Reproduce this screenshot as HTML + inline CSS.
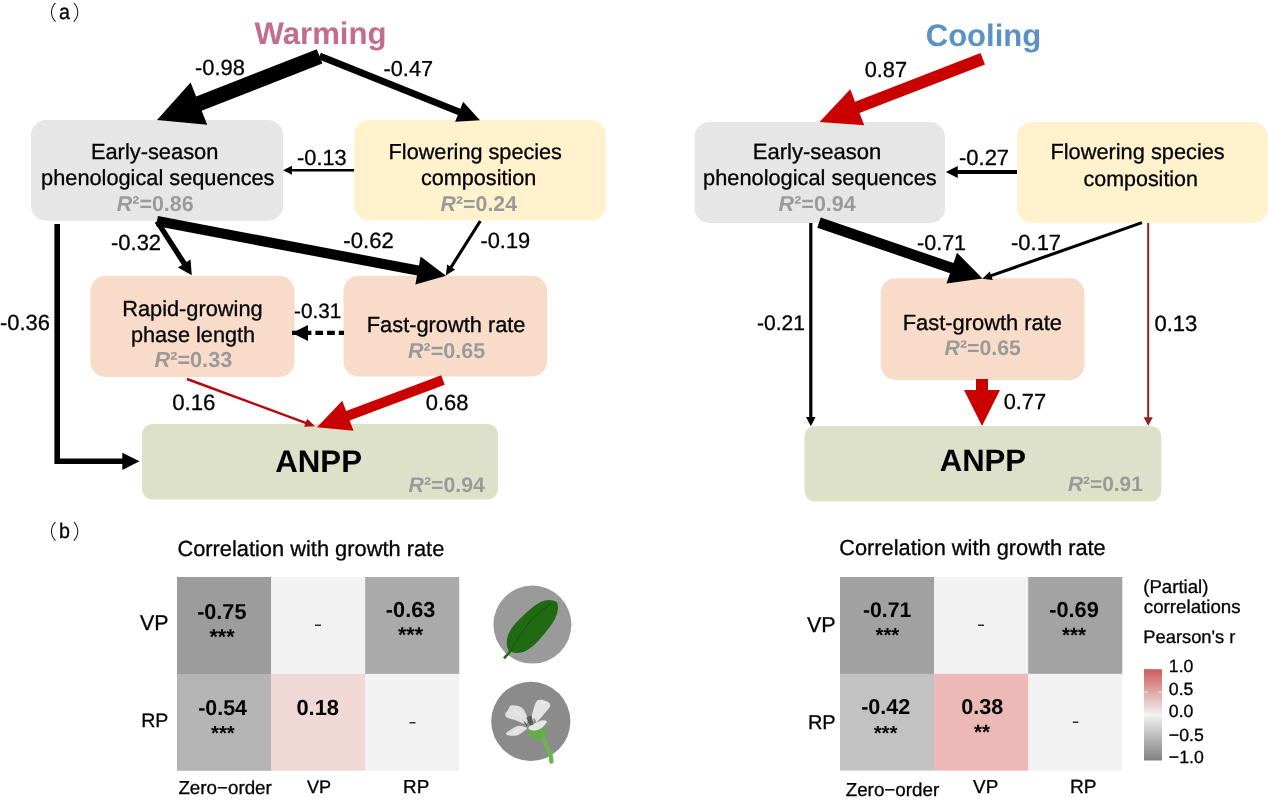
<!DOCTYPE html>
<html lang="en"><head><meta charset="utf-8"><title>Figure</title>
<style>
html,body{margin:0;padding:0;background:#fff;}
body{width:1268px;height:802px;overflow:hidden;}
svg{display:block;will-change:transform;font-family:'Liberation Sans', 'Noto Sans CJK SC', sans-serif;}
</style></head><body>
<svg width="1268" height="802" viewBox="0 0 1268 802" font-family="'Liberation Sans', 'Noto Sans CJK SC', sans-serif" text-rendering="geometricPrecision">
<rect x="31" y="120" width="252" height="100.80000000000001" rx="15" ry="15" fill="#e7e6e6"/>
<rect x="354" y="120" width="252" height="100.5" rx="15" ry="15" fill="#fff2cc"/>
<rect x="90.5" y="276" width="204.0" height="101" rx="15" ry="15" fill="#f8dcc9"/>
<rect x="343.5" y="276" width="203.5" height="100.5" rx="15" ry="15" fill="#f8dcc9"/>
<rect x="142" y="424" width="356" height="75.5" rx="10.5" ry="10.5" fill="#dde1c9"/>
<polygon points="316.83,49.22 196.13,96.51 190.60,82.40 157.00,120.00 207.20,124.77 201.67,110.66 322.37,63.38" fill="#000"/>
<polygon points="318.32,59.20 457.83,115.04 455.12,121.82 480.00,120.20 463.11,101.86 460.39,108.64 320.88,52.80" fill="#000"/>
<polygon points="354.00,169.10 292.00,169.10 292.00,165.80 283.00,170.30 292.00,174.80 292.00,171.50 354.00,171.50" fill="#000"/>
<polygon points="156.05,226.11 417.05,275.51 415.35,284.50 446.00,275.80 420.65,256.50 418.95,265.49 157.95,216.09" fill="#000"/>
<polygon points="154.77,222.74 181.99,264.97 177.91,267.59 191.80,275.30 190.52,259.47 186.44,262.10 159.23,219.86" fill="#000"/>
<polygon points="478.99,220.17 449.84,266.22 447.14,264.51 445.80,275.50 455.16,269.59 452.46,267.88 481.61,221.83" fill="#000"/>
<line x1="292.00" y1="332.90" x2="344.00" y2="332.90" stroke="#000" stroke-width="4.2" stroke-dasharray="7.7 4"/><polygon points="292.00,332.90 308.00,324.90 308.00,340.90" fill="#000"/>
<polyline points="57.2,224 57.2,461.3 124,461.3" fill="none" stroke="#000" stroke-width="5.6"/>
<polygon points="139.5,461.3 122.3,452.7 122.3,469.9" fill="#000"/>
<polygon points="186.58,380.13 305.20,423.96 304.15,426.82 315.00,426.30 307.09,418.85 306.04,421.71 187.42,377.87" fill="#b8060c"/>
<polygon points="441.24,375.32 346.14,411.02 342.27,400.72 317.00,427.30 353.52,430.68 349.65,420.38 444.76,384.68" fill="#ca0000"/>
<text x="36.6" y="19.90" font-size="20.3" font-family="'Liberation Sans', 'Noto Sans CJK SC', sans-serif" font-weight="300">（</text><text transform="translate(58.89,18.90) scale(0.93,1)" font-size="21.2" stroke="#000" stroke-width="0.3">a</text><text x="72.6" y="19.90" font-size="20.3" font-family="'Liberation Sans', 'Noto Sans CJK SC', sans-serif" font-weight="300">）</text>
<text x="254.47" y="43.70" font-size="31.15" font-weight="bold" fill="#c16d8b">Warming</text>
<text x="195.04" y="74.50" font-size="21.90" stroke="#000" stroke-width="0.3" fill="#000">-0.98</text>
<text x="383.54" y="75.50" font-size="21.74" stroke="#000" stroke-width="0.3" fill="#000">-0.47</text>
<text x="90.91" y="158.70" font-size="21.85" stroke="#000" stroke-width="0.3" fill="#000">Early-season</text>
<text x="41.11" y="185.00" font-size="21.75" stroke="#000" stroke-width="0.3" fill="#000">phenological sequences</text>
<text x="116.81" y="210.60" font-size="21.44" font-weight="bold" fill="#9a9a9a"><tspan font-style="italic">R</tspan>²=0.86</text>
<text x="297.04" y="165.20" font-size="21.79" stroke="#000" stroke-width="0.3" fill="#000">-0.13</text>
<text x="388.62" y="158.80" font-size="21.67" stroke="#000" stroke-width="0.3" fill="#000">Flowering species</text>
<text x="420.89" y="185.10" font-size="21.65" stroke="#000" stroke-width="0.3" fill="#000">composition</text>
<text x="440.62" y="211.40" font-size="21.34" font-weight="bold" fill="#9a9a9a"><tspan font-style="italic">R</tspan>²=0.24</text>
<text x="111.03" y="249.80" font-size="21.97" stroke="#000" stroke-width="0.3" fill="#000">-0.32</text>
<text x="343.33" y="248.20" font-size="22.11" stroke="#000" stroke-width="0.3" fill="#000">-0.62</text>
<text x="480.44" y="248.20" font-size="21.85" stroke="#000" stroke-width="0.3" fill="#000">-0.19</text>
<text x="122.21" y="315.60" font-size="21.79" stroke="#000" stroke-width="0.3" fill="#000">Rapid-growing</text>
<text x="130.91" y="341.70" font-size="21.69" stroke="#000" stroke-width="0.3" fill="#000">phase length</text>
<text x="154.51" y="367.40" font-size="21.69" font-weight="bold" fill="#9a9a9a"><tspan font-style="italic">R</tspan>²=0.33</text>
<text x="294.09" y="317.90" font-size="20.70" stroke="#000" stroke-width="0.3" fill="#000">-0.31</text>
<text x="366.81" y="331.70" font-size="21.81" stroke="#000" stroke-width="0.3" fill="#000">Fast-growth rate</text>
<text x="408.01" y="357.70" font-size="21.53" font-weight="bold" fill="#9a9a9a"><tspan font-style="italic">R</tspan>²=0.65</text>
<text x="0.04" y="329.50" font-size="21.91" stroke="#000" stroke-width="0.3" fill="#000">-0.36</text>
<text x="172.13" y="409.50" font-size="22.28" stroke="#000" stroke-width="0.3" fill="#000">0.16</text>
<text x="425.84" y="409.60" font-size="21.94" stroke="#000" stroke-width="0.3" fill="#000">0.68</text>
<text x="275.22" y="471.50" font-size="31.26" font-weight="bold" fill="#000">ANPP</text>
<text x="408.62" y="491.50" font-size="21.25" font-weight="bold" fill="#9a9a9a"><tspan font-style="italic">R</tspan>²=0.94</text>
<rect x="694.5" y="122" width="250.5" height="101" rx="15" ry="15" fill="#e7e6e6"/>
<rect x="1017" y="122" width="251" height="101" rx="15" ry="15" fill="#fff2cc"/>
<rect x="880.75" y="278.2" width="203.75" height="101.80000000000001" rx="15" ry="15" fill="#f8dcc9"/>
<rect x="804.5" y="426" width="356.79999999999995" height="75.5" rx="10.5" ry="10.5" fill="#dde1c9"/>
<polygon points="980.53,53.02 855.04,101.63 850.29,89.37 819.50,122.00 864.24,125.36 859.49,113.10 984.97,64.48" fill="#ca0000"/>
<polygon points="1017.00,170.00 957.75,170.00 957.75,166.00 945.75,172.00 957.75,178.00 957.75,174.00 1017.00,174.00" fill="#000"/>
<polygon points="817.27,227.66 950.02,273.13 946.49,283.44 982.50,278.60 957.02,252.70 953.49,263.01 820.73,217.54" fill="#000"/>
<polygon points="1141.49,221.14 990.75,274.18 989.77,271.40 982.30,278.80 992.76,279.89 991.78,277.11 1142.51,224.06" fill="#000"/>
<polygon points="809.20,223.00 809.20,417.00 806.05,417.00 810.80,426.30 815.55,417.00 812.40,417.00 812.40,223.00" fill="#000"/>
<polygon points="1147.20,223.00 1147.20,417.30 1143.55,417.30 1148.20,425.80 1152.85,417.30 1149.20,417.30 1149.20,223.00" fill="#8f2329"/>
<polygon points="976.00,379.00 976.00,390.00 964.00,390.00 982.00,426.00 1000.00,390.00 988.00,390.00 988.00,379.00" fill="#ca0000"/>
<text x="925.73" y="45.50" font-size="31.05" font-weight="bold" fill="#5b92c6">Cooling</text>
<text x="864.65" y="76.50" font-size="21.81" stroke="#000" stroke-width="0.3" fill="#000">0.87</text>
<text x="752.69" y="158.75" font-size="22.06" stroke="#000" stroke-width="0.3" fill="#000">Early-season</text>
<text x="703.11" y="185.00" font-size="21.78" stroke="#000" stroke-width="0.3" fill="#000">phenological sequences</text>
<text x="778.61" y="210.50" font-size="21.53" font-weight="bold" fill="#9a9a9a"><tspan font-style="italic">R</tspan>²=0.94</text>
<text x="959.03" y="165.00" font-size="21.97" stroke="#000" stroke-width="0.3" fill="#000">-0.27</text>
<text x="1050.41" y="159.30" font-size="21.79" stroke="#000" stroke-width="0.3" fill="#000">Flowering species</text>
<text x="1083.50" y="185.80" font-size="21.46" stroke="#000" stroke-width="0.3" fill="#000">composition</text>
<text x="917.05" y="249.50" font-size="21.50" stroke="#000" stroke-width="0.3" fill="#000">-0.71</text>
<text x="1011.03" y="249.50" font-size="21.97" stroke="#000" stroke-width="0.3" fill="#000">-0.17</text>
<text x="757.07" y="329.50" font-size="21.04" stroke="#000" stroke-width="0.3" fill="#000">-0.21</text>
<text x="902.71" y="329.50" font-size="21.88" stroke="#000" stroke-width="0.3" fill="#000">Fast-growth rate</text>
<text x="944.62" y="355.00" font-size="21.25" font-weight="bold" fill="#9a9a9a"><tspan font-style="italic">R</tspan>²=0.65</text>
<text x="1154.44" y="331.00" font-size="22.06" stroke="#000" stroke-width="0.3" fill="#000">0.13</text>
<text x="1003.65" y="409.00" font-size="21.81" stroke="#000" stroke-width="0.3" fill="#000">0.77</text>
<text x="939.72" y="471.00" font-size="31.08" font-weight="bold" fill="#000">ANPP</text>
<text x="1068.02" y="490.60" font-size="20.85" font-weight="bold" fill="#9a9a9a"><tspan font-style="italic">R</tspan>²=0.91</text>
<text x="36.6" y="539.10" font-size="20.3" font-family="'Liberation Sans', 'Noto Sans CJK SC', sans-serif" font-weight="300">（</text><text transform="translate(59.08,538.10) scale(0.93,1)" font-size="21.2" stroke="#000" stroke-width="0.3">b</text><text x="72.6" y="539.10" font-size="20.3" font-family="'Liberation Sans', 'Noto Sans CJK SC', sans-serif" font-weight="300">）</text>
<rect x="177.00" y="577.00" width="94.37" height="97.20" fill="#9c9c9c"/><rect x="271.07" y="577.00" width="94.37" height="97.20" fill="#f2f2f2"/><rect x="365.14" y="577.00" width="94.07" height="97.20" fill="#aaaaaa"/><rect x="177.00" y="673.90" width="94.37" height="96.90" fill="#b4b4b4"/><rect x="271.07" y="673.90" width="94.37" height="96.90" fill="#efd8d6"/><rect x="365.14" y="673.90" width="94.07" height="96.90" fill="#f2f2f2"/>
<rect x="840.00" y="577.00" width="94.40" height="97.10" fill="#a1a1a1"/><rect x="934.10" y="577.00" width="94.40" height="97.10" fill="#f2f2f2"/><rect x="1028.20" y="577.00" width="94.10" height="97.10" fill="#a3a3a3"/><rect x="840.00" y="673.80" width="94.40" height="96.80" fill="#c2c2c2"/><rect x="934.10" y="673.80" width="94.40" height="96.80" fill="#edb9b6"/><rect x="1028.20" y="673.80" width="94.10" height="96.80" fill="#f2f2f2"/>
<text x="177.39" y="555.50" font-size="21.84" stroke="#000" stroke-width="0.3" fill="#000">Correlation with growth rate</text>
<text x="839.19" y="555.00" font-size="21.80" stroke="#000" stroke-width="0.3" fill="#000">Correlation with growth rate</text>
<text x="139.91" y="629.80" font-size="21.38" stroke="#000" stroke-width="0.3" fill="#000">VP</text>
<text x="141.20" y="727.00" font-size="19.54" stroke="#000" stroke-width="0.3" fill="#000">RP</text>
<text x="807.01" y="631.60" font-size="21.53" stroke="#000" stroke-width="0.3" fill="#000">VP</text>
<text x="807.97" y="729.10" font-size="19.94" stroke="#000" stroke-width="0.3" fill="#000">RP</text>
<text x="178.40" y="794.00" font-size="18.79" stroke="#000" stroke-width="0.3" fill="#000">Zero−order</text>
<text x="306.93" y="792.50" font-size="18.09" stroke="#000" stroke-width="0.3" fill="#000">VP</text>
<text x="403.06" y="792.50" font-size="18.82" stroke="#000" stroke-width="0.3" fill="#000">RP</text>
<text x="845.70" y="795.50" font-size="18.81" stroke="#000" stroke-width="0.3" fill="#000">Zero−order</text>
<text x="973.12" y="793.20" font-size="18.87" stroke="#000" stroke-width="0.3" fill="#000">VP</text>
<text x="1070.03" y="793.20" font-size="19.14" stroke="#000" stroke-width="0.3" fill="#000">RP</text>
<text x="197.16" y="619.20" font-size="21.61" font-weight="bold" fill="#000">-0.75</text>
<text x="209.44" y="643.70" font-size="21.50" font-weight="bold" fill="#000">***</text>
<text x="385.85" y="617.00" font-size="21.69" font-weight="bold" fill="#000">-0.63</text>
<text x="397.94" y="642.20" font-size="21.50" font-weight="bold" fill="#000">***</text>
<text x="198.16" y="714.60" font-size="21.43" font-weight="bold" fill="#000">-0.54</text>
<text x="210.94" y="739.80" font-size="20.46" font-weight="bold" fill="#000">***</text>
<text x="296.45" y="714.60" font-size="21.86" font-weight="bold" fill="#000">0.18</text>
<rect x="315" y="624.6" width="6" height="1.2" fill="#000"/>
<rect x="409.5" y="722.2" width="6" height="1.2" fill="#000"/>
<text x="862.92" y="617.00" font-size="21.25" font-weight="bold" fill="#000">-0.71</text>
<text x="875.44" y="642.20" font-size="20.42" font-weight="bold" fill="#000">***</text>
<text x="1049.15" y="617.00" font-size="21.79" font-weight="bold" fill="#000">-0.69</text>
<text x="1061.94" y="642.20" font-size="20.64" font-weight="bold" fill="#000">***</text>
<text x="861.16" y="713.75" font-size="21.59" font-weight="bold" fill="#000">-0.42</text>
<text x="873.64" y="739.70" font-size="20.46" font-weight="bold" fill="#000">***</text>
<text x="961.16" y="713.75" font-size="21.59" font-weight="bold" fill="#000">0.38</text>
<text x="973.94" y="739.20" font-size="20.67" font-weight="bold" fill="#000">**</text>
<rect x="978" y="624.6" width="6" height="1.2" fill="#000"/>
<rect x="1072.8" y="721.6" width="5.6" height="1.2" fill="#000"/>
<circle cx="532.4" cy="624.6" r="39" fill="#9a9a9a"/>
<path d="M555.8,601.5 C554.3,600.8 551.4,599.9 548.9,600.0 C546.4,600.1 543.6,600.8 540.9,602.0 C538.2,603.2 535.7,604.9 532.9,607.0 C530.1,609.1 526.9,612.1 523.9,614.9 C520.9,617.7 517.4,620.9 514.9,623.9 C512.4,626.9 510.4,630.1 509.0,632.9 C507.6,635.7 507.1,638.4 506.8,640.9 C506.6,643.4 507.0,646.2 507.5,647.9 C508.0,649.6 508.4,650.4 510.0,651.3 C511.6,652.1 514.4,653.0 516.9,653.0 C519.4,653.0 522.2,652.5 524.9,651.3 C527.6,650.1 530.2,648.1 532.9,645.9 C535.6,643.7 538.2,640.9 540.9,637.9 C543.6,634.9 546.6,631.1 548.9,627.9 C551.2,624.7 553.4,621.9 554.9,618.9 C556.4,615.9 557.3,612.4 557.8,609.9 C558.2,607.4 557.9,605.4 557.6,604.0 C557.3,602.6 557.2,602.2 555.8,601.5 Z" fill="#1f6a13"/>
<path d="M511.5,650 L504,658.3" stroke="#1f6a13" stroke-width="2.6" fill="none"/>
<path d="M510.0,651.3 C511.5,648.9 515.9,641.6 519.0,636.9 C522.1,632.2 525.4,627.1 528.9,622.9 C532.4,618.7 536.2,615.0 539.9,611.9 C543.6,608.8 549.1,605.3 550.9,604.0" stroke="#175a0d" stroke-width="1.1" fill="none"/>
<circle cx="530.8" cy="721.3" r="39.6" fill="#8b8b8b"/>
<path d="M541.5,736.0 C542.4,737.6 545.3,742.5 546.8,745.8 C548.3,749.1 549.8,753.2 550.6,755.8 C551.4,758.4 551.3,760.6 551.4,761.6" stroke="#6db350" stroke-width="4.4" fill="none" stroke-linecap="round"/>
<path d="M525.9,728.9 C525.6,729.7 527.7,733.2 528.9,734.9 C530.1,736.6 531.2,738.1 532.9,738.9 C534.6,739.7 537.1,740.2 538.9,739.9 C540.7,739.6 542.6,738.2 543.9,736.9 C545.2,735.6 546.5,733.7 546.8,731.9 C547.1,730.1 546.4,726.6 545.8,725.9 C545.1,725.1 544.4,726.7 542.9,727.4 C541.4,728.1 538.9,729.5 536.9,729.9 C534.9,730.3 532.7,730.1 530.9,729.9 C529.1,729.7 526.2,728.1 525.9,728.9 Z" fill="#66ab49"/>
<path d="M527.9,719.9 C527.6,717.6 525.6,712.2 523.9,709.9 C522.2,707.6 520.0,706.7 517.9,706.0 C515.8,705.3 512.6,704.9 511.0,705.5 C509.4,706.1 509.0,708.4 508.0,709.9 C507.0,711.4 505.0,713.1 505.0,714.4 C505.0,715.7 506.4,717.0 508.0,717.9 C509.6,718.8 512.6,719.1 514.9,719.9 C517.2,720.7 520.1,722.2 521.9,722.9 C523.7,723.6 524.9,724.4 525.9,723.9 C526.9,723.4 528.2,722.2 527.9,719.9 Z" fill="#e0e0e0"/>
<path d="M531.9,716.9 C531.7,714.6 533.1,710.5 533.9,707.9 C534.7,705.2 535.4,702.3 536.9,701.0 C538.4,699.7 540.8,699.7 542.9,700.0 C545.0,700.3 548.1,701.9 549.3,703.0 C550.4,704.1 550.5,705.2 549.8,706.9 C549.1,708.5 546.7,710.7 544.9,712.9 C543.1,715.1 540.6,718.4 538.9,719.9 C537.2,721.4 536.1,722.4 534.9,721.9 C533.7,721.4 532.1,719.2 531.9,716.9 Z" fill="#e4e4e4"/>
<path d="M524.9,726.9 C523.4,726.5 520.2,725.5 517.9,725.9 C515.6,726.3 513.0,728.1 511.0,729.4 C509.0,730.6 506.3,732.4 506.0,733.4 C505.7,734.4 507.2,735.1 509.0,735.4 C510.8,735.7 514.6,736.0 516.9,735.4 C519.2,734.8 521.2,733.1 522.9,731.9 C524.6,730.7 526.6,729.2 526.9,728.4 C527.2,727.6 526.4,727.3 524.9,726.9 Z" fill="#e0e0e0"/>
<path d="M528.9,726.9 C529.9,725.9 532.7,724.0 534.9,722.9 C537.1,721.8 539.9,720.6 541.9,720.4 C543.9,720.1 546.5,720.5 546.8,721.4 C547.1,722.3 545.2,724.6 543.9,725.9 C542.6,727.2 540.7,728.6 538.9,729.4 C537.1,730.1 534.6,730.5 532.9,730.4 C531.2,730.3 529.6,729.5 528.9,728.9 C528.2,728.3 527.9,727.9 528.9,726.9 Z" fill="#e6e6e6"/>
<path d="M514,709.5 L521,716" stroke="#efefef" stroke-width="1" fill="none"/><path d="M540,704 L545,702.5" stroke="#f0f0f0" stroke-width="1" fill="none"/><path d="M513,732.5 L520,729" stroke="#efefef" stroke-width="1" fill="none"/>
<path d="M526.5,717.5 L529.5,716 L532,719 L533.5,724.5 L530.5,725.5 L528,722.5 Z" fill="#5a5a5a"/>
<path d="M524,721.5 L527,726" stroke="#555" stroke-width="1.2" fill="none"/><path d="M530.5,716 L531.5,719" stroke="#555" stroke-width="1.4" fill="none"/><path d="M534,718.5 L535.5,722.5" stroke="#777" stroke-width="1.2" fill="none"/>
<text x="1143.25" y="592.60" font-size="18.63" stroke="#000" stroke-width="0.3" fill="#000">(Partial)</text>
<text x="1143.81" y="612.80" font-size="18.74" stroke="#000" stroke-width="0.3" fill="#000">correlations</text>
<text x="1143.30" y="643.00" font-size="18.34" stroke="#000" stroke-width="0.3" fill="#000">Pearson's r</text>
<defs><linearGradient id="cb" x1="0" y1="0" x2="0" y2="1"><stop offset="0" stop-color="#cd5c5c"/><stop offset="0.5" stop-color="#f2f2f2"/><stop offset="1" stop-color="#808080"/></linearGradient></defs>
<rect x="1144" y="669.2" width="18" height="91.3" fill="url(#cb)"/>
<text x="1168.80" y="672.00" font-size="17.70" stroke="#000" stroke-width="0.3" fill="#000">1.0</text>
<rect x="1144" y="691.53" width="3.6" height="1" fill="#fff" opacity="0.75"/><rect x="1158.4" y="691.53" width="3.6" height="1" fill="#fff" opacity="0.75"/>
<text x="1168.80" y="694.70" font-size="17.70" stroke="#000" stroke-width="0.3" fill="#000">0.5</text>
<rect x="1144" y="714.35" width="3.6" height="1" fill="#fff" opacity="0.5"/><rect x="1158.4" y="714.35" width="3.6" height="1" fill="#fff" opacity="0.5"/>
<text x="1168.80" y="717.20" font-size="17.70" stroke="#000" stroke-width="0.3" fill="#000">0.0</text>
<text x="1168.80" y="740.50" font-size="17.70" stroke="#000" stroke-width="0.3" fill="#000">−0.5</text>
<text x="1168.80" y="763.20" font-size="17.70" stroke="#000" stroke-width="0.3" fill="#000">−1.0</text>
</svg>
</body></html>
